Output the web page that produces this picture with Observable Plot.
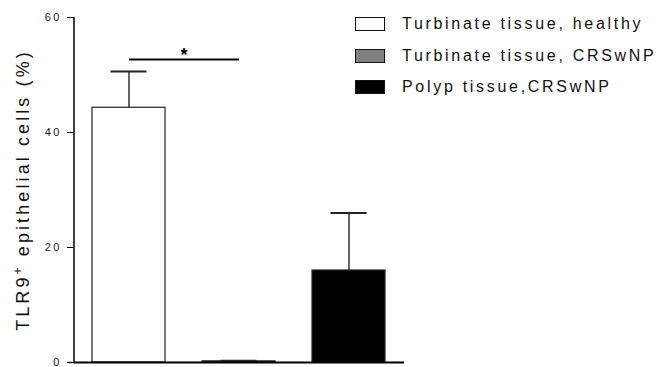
<!DOCTYPE html>
<html>
<head>
<meta charset="utf-8">
<script src="https://cdn.jsdelivr.net/npm/d3@7"></script>
<script src="https://cdn.jsdelivr.net/npm/@observablehq/plot@0.6"></script>
<style>
  html, body { margin: 0; padding: 0; background: #fff; }
  #wrap { position: relative; width: 661px; height: 367px; font-family: "Liberation Sans", Arial, sans-serif; }
  #legend { position: absolute; left: 355px; top: 8px; }
  .row { display: flex; align-items: center; height: 31.7px; }
  .sw { width: 28px; height: 12px; border: 1px solid #111; box-sizing: content-box; margin-right: 17px; }
  .lab { font-size: 16px; letter-spacing: 2.7px; color: #111; white-space: nowrap; }
</style>
</head>
<body>
<div id="wrap"></div>
<script>
const groups = ["Turbinate tissue, healthy", "Turbinate tissue, CRSwNP", "Polyp tissue,CRSwNP"];
const means = [44.3, 0.2, 16.0];
const errors = [6.3, 0.1, 10.0];
const fills = ["#ffffff", "#808080", "#000000"];
const yTicks = [0, 20, 40, 60];
const sigPair = [groups[0], groups[1]];
const sigY = 52.7;
const sigLabel = "*";

const data = groups.map((g, i) => ({group: g, mean: means[i], top: means[i] + errors[i], fill: fills[i]}));

const chart = Plot.plot({
  width: 661,
  height: 367,
  marginLeft: 74,
  marginRight: 257,
  marginTop: 17,
  marginBottom: 5,
  style: {fontFamily: "'Liberation Sans', Arial, sans-serif", background: "#fff"},
  x: {domain: groups, paddingInner: 0.336, paddingOuter: 0.168, axis: null},
  y: {domain: [0, 60], ticks: yTicks},
  marks: [
    Plot.barY(data, {x: "group", y: "mean", fill: "fill", stroke: "#222", strokeWidth: 1.2}),
    Plot.ruleX(data, {x: "group", y1: "mean", y2: "top", stroke: "#333", strokeWidth: 1.5}),
    Plot.tickY(data, {x: "group", y: "top", stroke: "#222", strokeWidth: 2, inset: 18.5}),
    Plot.ruleY([0], {stroke: "#000", strokeWidth: 2}),
    Plot.link([sigPair], {x1: d => d[0], x2: d => d[1], y1: sigY, y2: sigY, stroke: "#000", strokeWidth: 2.2}),
    Plot.text([sigLabel], {x: () => sigPair[0], y: sigY, text: d => d, dx: 55, dy: -4, fontSize: 18, fontWeight: "bold", fill: "#000"}),
    Plot.axisY({ticks: yTicks, tickSize: 7, tickPadding: 6, fontSize: 11, stroke: "#000",
      label: "TLR9+ epithelial cells (%)", labelAnchor: "center", labelArrow: "none", labelOffset: 58})
  ]
});
document.getElementById("wrap").appendChild(chart);

const svg = d3.select(chart);
svg.selectAll("g[aria-label='y-axis tick label'] text").style("letter-spacing", "2.2px").attr("fill", "#222");
svg.select("g[aria-label='y-axis tick'] path").attr("stroke-width", 1.3);
const lbl = svg.select("g[aria-label='y-axis label'] text");
lbl.text(null).style("font-size", "18px").style("letter-spacing", "3.1px").attr("fill", "#111");
lbl.append("tspan").text("TLR9");
lbl.append("tspan").attr("baseline-shift", "super").style("font-size", "12px").text("+");
lbl.append("tspan").text(" epithelial cells (%)");
svg.append("line").attr("x1", 74).attr("x2", 74).attr("y1", 17).attr("y2", 363).attr("stroke", "#000").attr("stroke-width", 1.5);

const leg = d3.select("#wrap").append("div").attr("id", "legend");
groups.forEach((g, i) => {
  const r = leg.append("div").attr("class", "row");
  r.append("div").attr("class", "sw").style("background", fills[i]);
  r.append("div").attr("class", "lab").text(g);
});
</script>
</body>
</html>
